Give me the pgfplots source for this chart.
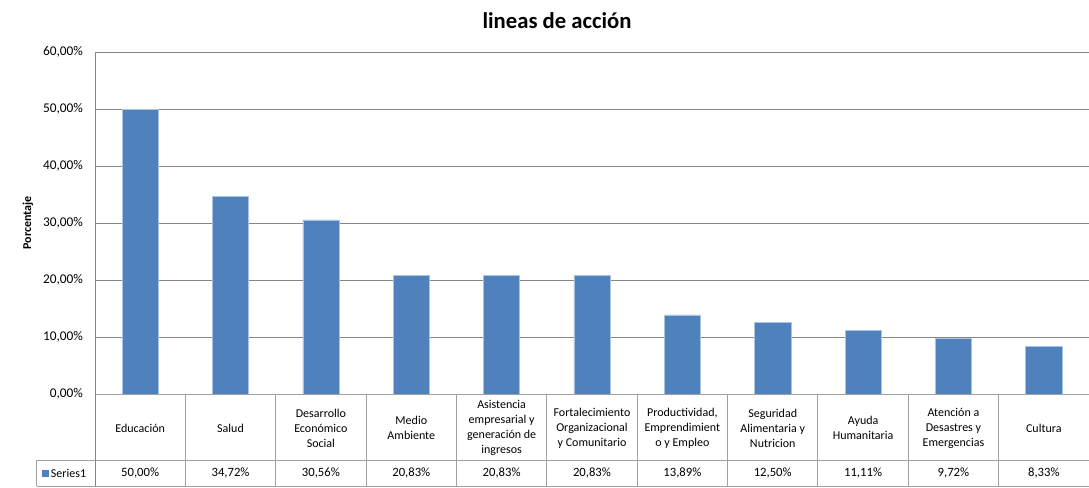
\documentclass[border=0pt]{standalone}
\usepackage{fontspec}
\setmainfont{Carlito}
\usepackage{pgfplots}
\pgfplotsset{compat=1.18}
\definecolor{barblue}{RGB}{79,129,189}
\definecolor{baredge}{RGB}{170,195,225}
\definecolor{gridgray}{RGB}{134,134,134}
\definecolor{tablegray}{RGB}{160,160,160}
\begin{document}
\begin{tikzpicture}
\useasboundingbox (-71.25pt,-69.75pt) rectangle (745.5pt,295.5pt);
\begin{axis}[
  at={(0,0)}, anchor=south west,
  scale only axis, width=745.5pt, height=256.5pt,
  xmin=-0.5, xmax=10.5, ymin=0, ymax=60,
  ytick={0,10,...,60},
  ymajorgrids, grid style={gridgray, line width=0.75pt},
  axis line style={draw=none},
  major tick length=0pt,
  xtick={0,...,10},
  xticklabels={Educación, Salud, {Desarrollo\\Económico\\Social}, {Medio\\Ambiente},
    {Asistencia\\empresarial y\\generación de\\ingresos},
    {Fortalecimiento\\Organizacional\\y Comunitario},
    {Productividad,\\Emprendimient\\o y Empleo},
    {Seguridad\\Alimentaria y\\Nutricion},
    {Ayuda\\Humanitaria},
    {Atención a\\Desastres y\\Emergencias},
    Cultura},
  xticklabel style={font=\fontsize{9}{11.25}\selectfont, align=center, anchor=center, yshift=-25.5pt},
  yticklabel style={font=\fontsize{10}{12}\selectfont, anchor=east, xshift=-5.5pt},
  /pgf/number format/use comma,
  /pgf/number format/fixed,
  /pgf/number format/fixed zerofill,
  /pgf/number format/precision=2,
  /pgf/number format/assume math mode=true,
  yticklabel={\pgfmathprintnumber{\tick}\%},
  ylabel={Porcentaje},
  every axis y label/.style={at={([xshift=-50.25pt]axis description cs:0,0.5)}, rotate=90, anchor=center, font=\bfseries\fontsize{9}{11}\selectfont},
  title={lineas de acción},
  title style={font=\bfseries\fontsize{17}{20}\selectfont, at={(rel axis cs:0.4648,1)}, anchor=center, yshift=17.5pt},
  clip=false,
]
\addplot[ybar, bar width=0.4, fill=barblue, draw=baredge, line width=0.4pt] coordinates {
  (0,50.00) (1,34.72) (2,30.56) (3,20.83) (4,20.83) (5,20.83)
  (6,13.89) (7,12.50) (8,11.11) (9,9.72) (10,8.33)};
\end{axis}
\begin{scope}[tablegray, line width=0.75pt]
  \draw (-43.5pt,-49.5pt) -- (745.5pt,-49.5pt);
  \draw (-43.5pt,-69pt) -- (745.5pt,-69pt);
  \draw (-43.5pt,-49.5pt) -- (-43.5pt,-69pt);
  \foreach \k in {1,...,11} \draw ({\k*67.7727pt},0pt) -- ({\k*67.7727pt},-69pt);
  \draw (0pt,0pt) -- (745.5pt,0pt);
\end{scope}
\draw[gridgray, line width=0.75pt] (0pt,-69pt) -- (0pt,256.5pt);
\foreach \i/\v in {0/{50,00\%},1/{34,72\%},2/{30,56\%},3/{20,83\%},4/{20,83\%},5/{20,83\%},6/{13,89\%},7/{12,50\%},8/{11,11\%},9/{9,72\%},10/{8,33\%}}
  \node[font=\fontsize{9.5}{11}\selectfont] at ({(\i+0.5)*67.7727pt},-59.25pt) {\v};
\node[anchor=west, inner sep=0pt, font=\fontsize{9}{11}\selectfont] at (-40pt,-59.25pt) {\textcolor{barblue}{\rule{5.25pt}{5.25pt}}\hspace{1.5pt}Series1};
\end{tikzpicture}
\end{document}
